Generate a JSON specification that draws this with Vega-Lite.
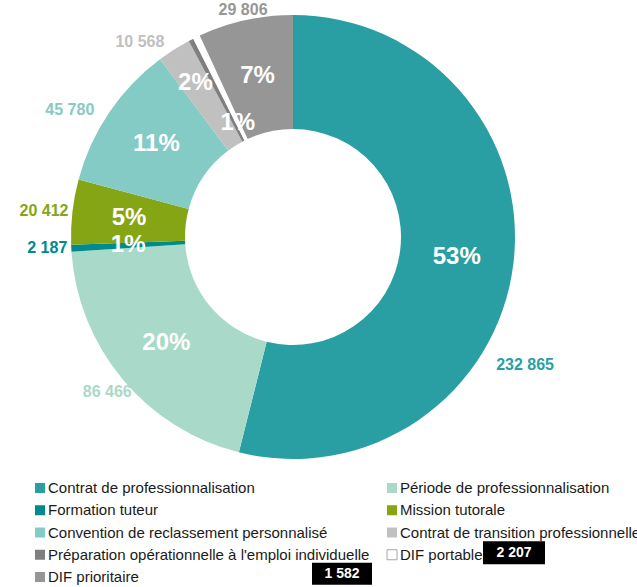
{
  "$schema": "https://vega.github.io/schema/vega-lite/v6.json",
  "padding": 0,
  "spacing": 0,
  "bounds": "flush",
  "background": "white",
  "data": {"values": [
    {"idx": 0, "cat": "Contrat de professionnalisation", "value": 232865, "pct": "53%"},
    {"idx": 1, "cat": "Période de professionnalisation", "value": 86466, "pct": "20%"},
    {"idx": 2, "cat": "Formation tuteur", "value": 2187, "pct": "1%"},
    {"idx": 3, "cat": "Mission tutorale", "value": 20412, "pct": "5%"},
    {"idx": 4, "cat": "Convention de reclassement personnalisé", "value": 45780, "pct": "11%"},
    {"idx": 5, "cat": "Contrat de transition professionnelle", "value": 10568, "pct": "2%"},
    {"idx": 6, "cat": "Préparation opérationnelle à l'emploi individuelle", "value": 1582, "pct": ""},
    {"idx": 7, "cat": "DIF portable", "value": 2207, "pct": "1%"},
    {"idx": 8, "cat": "DIF prioritaire", "value": 29806, "pct": "7%"}
  ]},
  "transform": [
    {"calculate": "replace(format(datum.value, ','), ',', ' ')", "as": "vlabel"},
    {"calculate": "datum.idx % 2", "as": "col"},
    {"calculate": "floor(datum.idx / 2)", "as": "row"}
  ],
  "config": {"view": {"stroke": null}, "font": "Liberation Sans"},
  "vconcat": [
    {
      "width": 586,
      "height": 474,
      "encoding": {
        "theta": {"field": "value", "type": "quantitative", "stack": true},
        "order": {"field": "idx", "type": "quantitative"}
      },
      "layer": [
        {
          "mark": {"type": "arc", "radius": 222, "innerRadius": 108},
          "encoding": {
            "color": {"field": "cat", "type": "nominal", "legend": null,
              "scale": {
                "domain": ["Contrat de professionnalisation", "Période de professionnalisation", "Formation tuteur", "Mission tutorale", "Convention de reclassement personnalisé", "Contrat de transition professionnelle", "Préparation opérationnelle à l'emploi individuelle", "DIF portable", "DIF prioritaire"],
                "range": ["#2A9FA3", "#A9D9C8", "#008A8C", "#86A514", "#85CBC5", "#C0C0C0", "#7F7F7F", "#FFFFFF", "#969696"]
              }}
          }
        },
        {
          "mark": {"type": "text", "radius": 165, "fontWeight": "bold", "color": "white", "baseline": "middle"},
          "encoding": {
            "text": {"condition": {"test": "datum.idx !== 5 && datum.idx !== 7", "field": "pct"}, "value": ""},
            "size": {"condition": {"test": "datum.idx !== 5 && datum.idx !== 7", "value": 24}, "value": 0}
          }
        },
        {
          "mark": {"type": "text", "radius": 182, "fontWeight": "bold", "color": "white", "baseline": "middle"},
          "encoding": {
            "text": {"condition": {"test": "datum.idx === 5", "field": "pct"}, "value": ""},
            "size": {"condition": {"test": "datum.idx === 5", "value": 24}, "value": 0}
          }
        },
        {
          "mark": {"type": "text", "radius": 127, "fontWeight": "bold", "color": "white", "baseline": "middle"},
          "encoding": {
            "text": {"condition": {"test": "datum.idx === 7", "field": "pct"}, "value": ""},
            "size": {"condition": {"test": "datum.idx === 7", "value": 24}, "value": 0}
          }
        },
        {
          "mark": {"type": "text", "radius": 226, "fontWeight": "bold", "align": "right", "baseline": "middle"},
          "encoding": {
            "text": {"condition": {"test": "datum.idx === 2 || datum.idx === 3", "field": "vlabel"}, "value": ""},
            "size": {"condition": {"test": "datum.idx === 2 || datum.idx === 3", "value": 16}, "value": 0},
            "color": {"field": "cat", "type": "nominal", "legend": null}
          }
        },
        {
          "mark": {"type": "text", "radius": 240, "dy": 8, "fontWeight": "bold", "align": "right", "baseline": "middle"},
          "encoding": {
            "text": {"condition": {"test": "datum.idx === 4 || datum.idx === 5", "field": "vlabel"}, "value": ""},
            "size": {"condition": {"test": "datum.idx === 4 || datum.idx === 5", "value": 16}, "value": 0},
            "color": {"field": "cat", "type": "nominal", "legend": null}
          }
        },
        {
          "mark": {"type": "text", "radius": 242, "fontWeight": "bold", "align": "center", "baseline": "middle"},
          "encoding": {
            "text": {"condition": {"test": "datum.idx === 1", "field": "vlabel"}, "value": ""},
            "size": {"condition": {"test": "datum.idx === 1", "value": 16}, "value": 0},
            "color": {"field": "cat", "type": "nominal", "legend": null}
          }
        },
        {
          "mark": {"type": "text", "radius": 232, "fontWeight": "bold", "align": "center", "baseline": "middle"},
          "encoding": {
            "text": {"condition": {"test": "datum.idx === 8", "field": "vlabel"}, "value": ""},
            "size": {"condition": {"test": "datum.idx === 8", "value": 16}, "value": 0},
            "color": {"field": "cat", "type": "nominal", "legend": null}
          }
        },
        {
          "mark": {"type": "text", "radius": 250, "dx": -16, "dy": 97, "fontWeight": "bold", "align": "center", "baseline": "middle"},
          "encoding": {
            "text": {"condition": {"test": "datum.idx === 0", "field": "vlabel"}, "value": ""},
            "size": {"condition": {"test": "datum.idx === 0", "value": 16}, "value": 0},
            "color": {"field": "cat", "type": "nominal", "legend": null}
          }
        }
      ]
    },
    {
      "width": 637,
      "height": 113,
      "encoding": {
        "x": {"field": "col", "type": "quantitative", "scale": {"domain": [0, 1], "range": [40, 392]}, "axis": null},
        "y": {"field": "row", "type": "quantitative", "scale": {"domain": [0, 4], "range": [14, 103]}, "axis": null}
      },
      "layer": [
        {
          "mark": {"type": "point", "shape": "square", "filled": true, "size": 100, "strokeWidth": 1, "opacity": 1},
          "encoding": {
            "color": {"field": "cat", "type": "nominal", "legend": null,
              "scale": {
                "domain": ["Contrat de professionnalisation", "Période de professionnalisation", "Formation tuteur", "Mission tutorale", "Convention de reclassement personnalisé", "Contrat de transition professionnelle", "Préparation opérationnelle à l'emploi individuelle", "DIF portable", "DIF prioritaire"],
                "range": ["#2A9FA3", "#A9D9C8", "#008A8C", "#86A514", "#85CBC5", "#C0C0C0", "#7F7F7F", "#FFFFFF", "#969696"]
              }},
            "stroke": {"condition": {"test": "datum.idx === 7", "value": "#a6a6a6"}, "value": "transparent"}
          }
        },
        {
          "mark": {"type": "text", "align": "left", "baseline": "middle", "dx": 8, "fontSize": 15, "color": "#1a1a1a"},
          "encoding": {"text": {"field": "cat"}}
        },
        {
          "transform": [{"filter": "datum.idx === 7"}],
          "mark": {"type": "point", "shape": "M-1,-0.37L1,-0.37L1,0.37L-1,0.37Z", "size": 3844, "filled": true, "color": "black", "opacity": 1, "xOffset": 122, "yOffset": -2}
        },
        {
          "transform": [{"filter": "datum.idx === 7"}],
          "mark": {"type": "text", "color": "white", "fontWeight": "bold", "fontSize": 14, "baseline": "middle", "align": "center", "dx": 122, "dy": -2},
          "encoding": {"text": {"field": "vlabel"}}
        },
        {
          "transform": [{"filter": "datum.idx === 6"}],
          "mark": {"type": "point", "shape": "M-1,-0.37L1,-0.37L1,0.37L-1,0.37Z", "size": 3600, "filled": true, "color": "black", "opacity": 1, "xOffset": 302, "yOffset": 19}
        },
        {
          "transform": [{"filter": "datum.idx === 6"}],
          "mark": {"type": "text", "color": "white", "fontWeight": "bold", "fontSize": 14, "baseline": "middle", "align": "center", "dx": 302, "dy": 19},
          "encoding": {"text": {"field": "vlabel"}}
        }
      ]
    }
  ]
}
